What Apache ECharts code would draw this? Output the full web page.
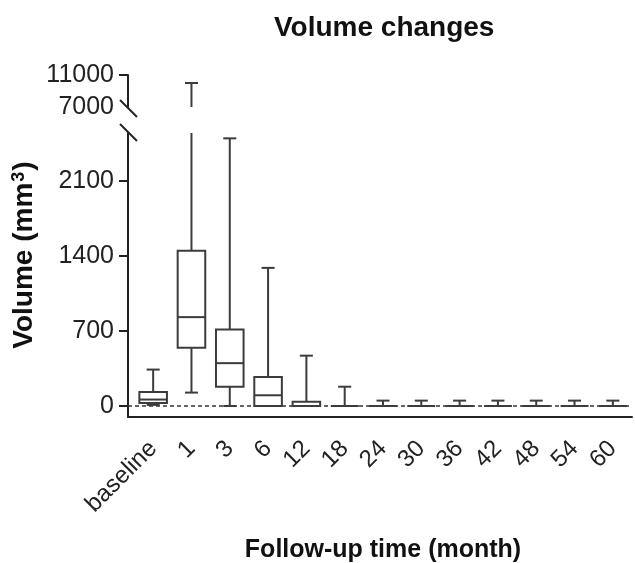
<!DOCTYPE html>
<html><head><meta charset="utf-8">
<script src="https://cdn.jsdelivr.net/npm/echarts@6/dist/echarts.min.js"></script>
<style>html,body{margin:0;padding:0;background:#fff}#c{width:635px;height:563px}</style>
</head><body><div id="c"></div>
<script>
// ---- data ----
const categories = ['baseline','1','3','6','12','18','24','30','36','42','48','54','60'];
const whiskerLow  = [10, 125, 0, 0, 0, 0, 0, 0, 0, 0, 0, 0, 0];
const q1          = [28, 545, 180, 0, 0, 0, 0, 0, 0, 0, 0, 0, 0];
const median      = [60, 830, 400, 100, 0, 0, 0, 0, 0, 0, 0, 0, 0];
const q3          = [130, 1450, 715, 270, 40, 0, 0, 0, 0, 0, 0, 0, 0];
const whiskerHigh = [340, 10000, 2500, 1290, 470, 180, 50, 50, 50, 50, 50, 50, 50];
const lowerTicks = [0, 700, 1400, 2100];
const upperTicks = [7000, 11000];
const lowerAxisMin = -103;  // x axis sits a little below zero
const lowerMax = 2550;      // top of lower segment (axis break)
const upperMin = 7000;
const upperMax = 11000;

const rows = categories.map((c, i) => [i, whiskerLow[i], q1[i], median[i], q3[i], whiskerHigh[i]]);

const FONT = 'Liberation Sans, Arial, sans-serif';
const INK = '#222';
const BOX = '#3c3c3c';

const chart = echarts.init(document.getElementById('c'));

function lineEl(x1, y1, x2, y2) {
  return { type: 'line', shape: { x1, y1, x2, y2 }, style: { stroke: BOX, lineWidth: 2 } };
}

function renderLower(params, api) {
  const i = api.value(0);
  const lo = api.value(1), a = api.value(2), m = api.value(3), b = api.value(4), hi = api.value(5);
  const band = api.size([1, 0])[0];
  const hw = band * 0.36, cw = band * 0.17;
  const cx = api.coord([i, 0])[0];
  const y = v => api.coord([i, Math.min(v, lowerMax)])[1];
  const ch = [
    lineEl(cx, y(b), cx, y(hi)),
    lineEl(cx, y(lo), cx, y(a)),
    { type: 'rect', shape: { x: cx - hw, y: y(b), width: 2 * hw, height: Math.max(y(a) - y(b), 0) },
      style: { stroke: BOX, lineWidth: 2, fill: '#fff' } },
    lineEl(cx - hw, y(m), cx + hw, y(m)),
    lineEl(cx - cw, y(lo), cx + cw, y(lo))
  ];
  if (hi <= lowerMax) ch.push(lineEl(cx - cw, y(hi), cx + cw, y(hi)));
  return { type: 'group', children: ch };
}

function renderUpper(params, api) {
  const i = api.value(0);
  const hi = api.value(5);
  if (hi <= upperMin) return null;
  const band = api.size([1, 0])[0];
  const cw = band * 0.17;
  const cx = api.coord([i, upperMin])[0];
  const y0 = api.coord([i, upperMin])[1];
  const y1 = api.coord([i, Math.min(hi, upperMax)])[1];
  return { type: 'group', children: [lineEl(cx, y0, cx, y1), lineEl(cx - cw, y1, cx + cw, y1)] };
}

const yCommon = {
  type: 'value', offset: 6,
  axisLine: { show: true, lineStyle: { color: INK, width: 2 } },
  axisTick: { show: true, length: 9, lineStyle: { color: INK, width: 2 } },
  axisLabel: { fontSize: 25, color: INK, fontFamily: FONT, margin: 14, formatter: v => String(v) },
  splitLine: { show: false }
};

const option = {
  animation: false,
  title: {
    text: 'Volume changes', left: 269, top: 9,
    textStyle: { fontSize: 28, fontWeight: 'bold', color: '#111', fontFamily: FONT }
  },
  grid: [
    { left: 134, right: 3, top: 133, bottom: 146, containLabel: false, outerBoundsMode: 'none' },
    { left: 134, right: 3, top: 75, height: 32, containLabel: false, outerBoundsMode: 'none' }
  ],
  xAxis: [
    {
      type: 'category', gridIndex: 0, data: categories,
      axisLine: { onZero: false, lineStyle: { color: INK, width: 2 } },
      axisTick: { alignWithLabel: true, length: 10, lineStyle: { color: INK, width: 2 } },
      axisLabel: { rotate: 45, fontSize: 24, color: INK, fontFamily: FONT, margin: 28, interval: 0 },
      name: 'Follow-up time (month)', nameLocation: 'middle', nameGap: 121,
      nameTextStyle: { fontSize: 25, fontWeight: 'bold', color: '#111', fontFamily: FONT }
    },
    { type: 'category', gridIndex: 1, data: categories, show: false }
  ],
  yAxis: [
    Object.assign({}, yCommon, {
      gridIndex: 0, min: lowerAxisMin, max: lowerMax,
      axisTick: Object.assign({}, yCommon.axisTick, { customValues: lowerTicks }),
      axisLabel: Object.assign({}, yCommon.axisLabel, { customValues: lowerTicks })
    }),
    Object.assign({}, yCommon, {
      gridIndex: 1, min: upperMin, max: upperMax,
      axisTick: Object.assign({}, yCommon.axisTick, { customValues: [upperMax] }),
      axisLabel: Object.assign({}, yCommon.axisLabel, { customValues: upperTicks })
    })
  ],
  series: [
    {
      type: 'custom', xAxisIndex: 0, yAxisIndex: 0, data: rows, z: 3,
      encode: { x: 0, y: [1, 2, 3, 4, 5] }, renderItem: renderLower, clip: false
    },
    {
      type: 'custom', xAxisIndex: 1, yAxisIndex: 1, data: rows,
      encode: { x: 0, y: [1, 2, 3, 4, 5] }, renderItem: renderUpper, clip: false
    }
  ]
};
chart.setOption(option);

// reference line at zero, axis corner, break marks and y-axis title
const axisX = 134 - 6;
const rightX = 635 - 3;
const yZero = chart.convertToPixel({ yAxisIndex: 0 }, 0);
const yBottom = chart.convertToPixel({ yAxisIndex: 0 }, lowerAxisMin);
const yBreakUp = chart.convertToPixel({ yAxisIndex: 1 }, upperMin);
const yBreakLo = chart.convertToPixel({ yAxisIndex: 0 }, lowerMax);
chart.setOption({
  graphic: [
    { type: 'line', z: 1, shape: { x1: axisX, y1: yZero, x2: rightX, y2: yZero },
      style: { stroke: '#333', lineWidth: 1.5, lineDash: [4, 3] } },
    { type: 'line', shape: { x1: axisX - 1, y1: yBottom, x2: 135, y2: yBottom },
      style: { stroke: INK, lineWidth: 2 } },
    { type: 'line', shape: { x1: axisX - 8, y1: yBreakUp - 7, x2: axisX + 9, y2: yBreakUp + 10 },
      style: { stroke: INK, lineWidth: 2 } },
    { type: 'line', shape: { x1: axisX - 8, y1: yBreakLo - 9, x2: axisX + 9, y2: yBreakLo + 8 },
      style: { stroke: INK, lineWidth: 2 } },
    { type: 'text', x: 24, y: 255, rotation: Math.PI / 2,
      style: { text: 'Volume (mm{s|3})', fontSize: 28, fontWeight: 'bold', fontFamily: FONT, fill: '#111',
               align: 'center', verticalAlign: 'middle',
               rich: { s: { fontSize: 18, fontWeight: 'bold', fontFamily: FONT, fill: '#111',
                            verticalAlign: 'top', padding: [0, 1, 8, 1] } } } }
  ]
});
</script></body></html>
